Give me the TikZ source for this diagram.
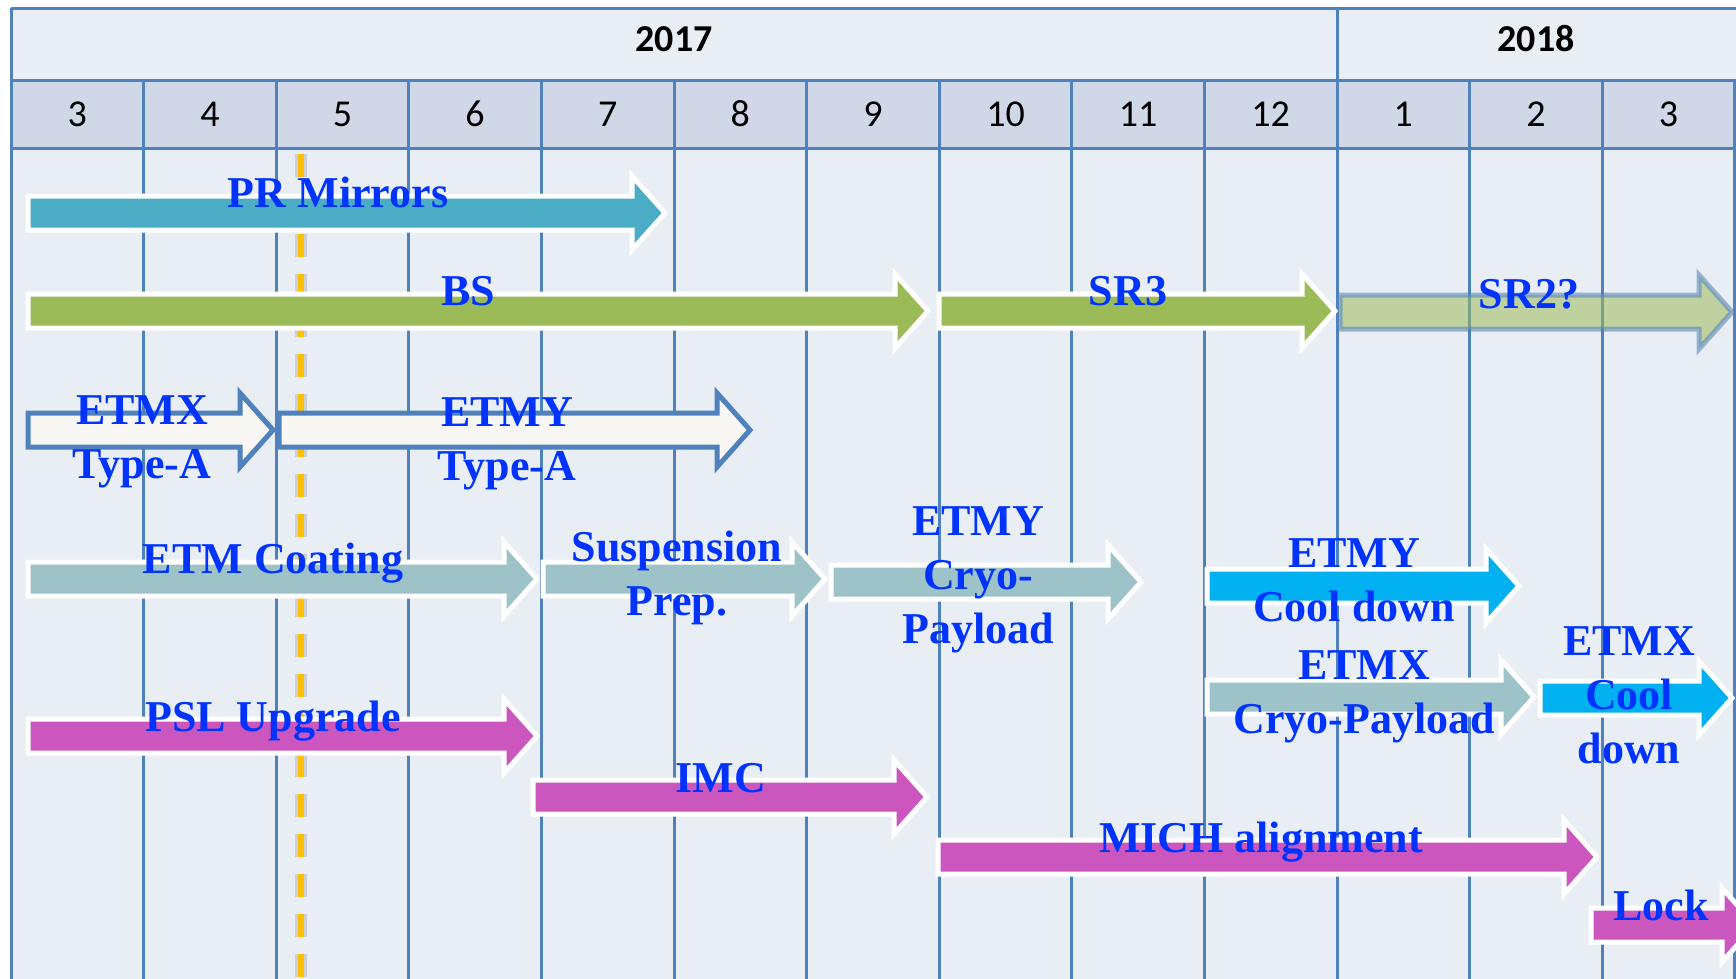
\documentclass[tikz,border=0pt]{standalone}
\usepackage{fontspec}
\setmainfont{Liberation Serif}
\newfontfamily\monthfont{Carlito}
\usepackage{xcolor}
\definecolor{gridLine}{HTML}{4F81BD}
\definecolor{cellBg}{HTML}{E9EDF4}
\definecolor{monthBg}{HTML}{D0D8E8}
\definecolor{taskTeal}{HTML}{4BACC6}
\definecolor{taskGreen}{HTML}{9BBB59}
\definecolor{taskGrey}{HTML}{9DC3C8}
\definecolor{taskCyan}{HTML}{00B0F0}
\definecolor{taskMagenta}{HTML}{CB56BE}
\definecolor{taskPaper}{HTML}{F8F7F3}
\definecolor{taskText}{HTML}{0033FF}
\definecolor{msOrange}{HTML}{FFC000}

% block arrow: style, left x, tip x, centre y
\newcommand{\taskarrow}[4]{%
  \draw[#1] (#2,#4-17) -- (#3-33,#4-17) -- (#3-33,#4-37) -- (#3,#4)
    -- (#3-33,#4+37) -- (#3-33,#4+17) -- (#2,#4+17) -- cycle;}

\tikzset{
  task/.style={fill=#1, draw=white, line width=5pt, line join=miter},
  typea/.style={fill=taskPaper, draw=gridLine, line width=5pt, line join=miter},
  maybe/.style={fill=taskGreen, fill opacity=0.55, draw=gridLine, draw opacity=0.55, line width=5pt, line join=miter},
  tasktext/.style={text=taskText, font=\fontsize{44}{54}\selectfont\bfseries, align=center, anchor=base, inner sep=0pt},
  monthtext/.style={font=\monthfont\fontsize{38}{40}\selectfont, inner sep=0pt},
  yeartext/.style={font=\monthfont\bfseries\fontsize{38}{40}\selectfont, inner sep=0pt},
  gridline/.style={draw=gridLine, line width=3pt},
  milestoneline/.style={draw=msOrange, line width=6pt, dash pattern=on 23pt off 17pt},
}

\begin{document}
\begin{tikzpicture}[x=1pt, y=-1pt]
  \useasboundingbox (0,0) rectangle (1736,978);
  \clip (0,0) rectangle (1736,978);
  \fill[white] (0,0) rectangle (1736,978);
  % table
  \fill[cellBg] (11,8) rectangle (1760,990);
  \fill[monthBg] (11,80) rectangle (1760,148);
  \draw[gridline] (11,8) -- (1760,8);
  \draw[gridline] (11,80) -- (1760,80);
  \draw[gridline] (11,148) -- (1760,148);
  \draw[gridline] (11,8) -- (11,990);
  \draw[gridline] (1337,8) -- (1337,990);
  \draw[gridline] (143.6,80) -- (143.6,990);
  \draw[gridline] (276.2,80) -- (276.2,990);
  \draw[gridline] (408.8,80) -- (408.8,990);
  \draw[gridline] (541.4,80) -- (541.4,990);
  \draw[gridline] (674,80) -- (674,990);
  \draw[gridline] (806.6,80) -- (806.6,990);
  \draw[gridline] (939.2,80) -- (939.2,990);
  \draw[gridline] (1071.8,80) -- (1071.8,990);
  \draw[gridline] (1204.4,80) -- (1204.4,990);
  \draw[gridline] (1469.6,80) -- (1469.6,990);
  \draw[gridline] (1602.2,80) -- (1602.2,990);
  \draw[gridline] (1734.8,80) -- (1734.8,990);
  \node[yeartext] (y2017) at (674,39) {2017};
  \node[yeartext] (y2018) at (1536,39) {2018};
  \node[monthtext] (m3) at (77.3,114) {3};
  \node[monthtext] (m4) at (209.9,114) {4};
  \node[monthtext] (m5) at (342.5,114) {5};
  \node[monthtext] (m6) at (475.1,114) {6};
  \node[monthtext] (m7) at (607.7,114) {7};
  \node[monthtext] (m8) at (740.3,114) {8};
  \node[monthtext] (m9) at (872.9,114) {9};
  \node[monthtext] (m10) at (1005.5,114) {10};
  \node[monthtext] (m11) at (1138.1,114) {11};
  \node[monthtext] (m12) at (1270.7,114) {12};
  \node[monthtext] (n1) at (1403.3,114) {1};
  \node[monthtext] (n2) at (1535.9,114) {2};
  \node[monthtext] (n3) at (1668.5,114) {3};
  % today line
  \draw[draw=black, opacity=0.12, line width=12pt, dash pattern=on 23pt off 17pt] (301,154) -- (301,990);
  \draw[milestoneline] (301,154) -- (301,990);
  % tasks
  \taskarrow{task=taskTeal}{28}{665}{213}
  \taskarrow{task=taskGreen}{28}{928}{311}
  \taskarrow{task=taskGreen}{939}{1335}{311}
  \taskarrow{maybe}{1340}{1732}{312}
  \taskarrow{typea}{28}{273}{430}
  \taskarrow{typea}{279}{750}{430}
  \taskarrow{task=taskGrey}{28}{537}{579}
  \taskarrow{task=taskGrey}{543}{825}{579}
  \taskarrow{task=taskGrey}{831}{1141}{582}
  \taskarrow{task=taskCyan}{1207}{1519}{586}
  \taskarrow{task=taskGrey}{1207}{1534}{697}
  \taskarrow{task=taskCyan}{1540}{1732}{698}
  \taskarrow{task=taskMagenta}{28}{537}{736}
  \taskarrow{task=taskMagenta}{533}{927}{797}
  \taskarrow{task=taskMagenta}{938}{1597}{857}
  \taskarrow{task=taskMagenta}{1591}{1755}{925}
  % labels (base = last line)
  \node[tasktext] (prm) at (338,207) {PR Mirrors};
  \node[tasktext] (bs) at (468,305) {BS};
  \node[tasktext] (sr3) at (1128,305) {SR3};
  \node[tasktext] (sr2) at (1529,308) {SR2?};
  \node[tasktext] (etmxa) at (142,478) {ETMX\\Type-A};
  \node[tasktext] (etmya) at (507,480) {ETMY\\Type-A};
  \node[tasktext] (coat) at (273,573) {ETM Coating};
  \node[tasktext] (susp) at (677,615) {Suspension\\Prep.};
  \node[tasktext] (etmycp) at (978,643) {ETMY\\Cryo-\\Payload};
  \node[tasktext] (etmycd) at (1354,621) {ETMY\\Cool down};
  \node[tasktext] (etmxcp) at (1364,733) {ETMX\\Cryo-Payload};
  \node[tasktext] (etmxcd) at (1629,763) {ETMX\\Cool\\down};
  \node[tasktext] (psl) at (273,731) {PSL Upgrade};
  \node[tasktext] (imc) at (721,792) {IMC};
  \node[tasktext] (mich) at (1261,852) {MICH alignment};
  \node[tasktext] (lock) at (1661,920) {Lock};
\end{tikzpicture}
\end{document}
